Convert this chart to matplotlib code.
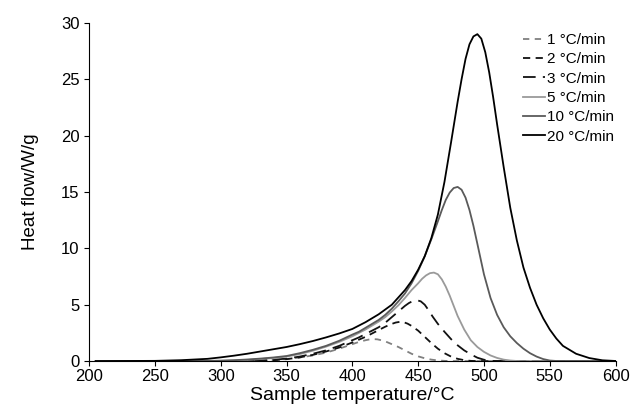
#!/usr/bin/env python3

"""
DSC heat flow curves at different heating rates.
"""

import matplotlib
matplotlib.use('Agg')
import matplotlib.pyplot as plt

plt.rcParams['font.family'] = ['Liberation Sans', 'DejaVu Sans']

rate_labels = ['1 °C/min', '2 °C/min', '3 °C/min', '5 °C/min', '10 °C/min', '20 °C/min']

# temperature (°C) / heat flow (W/g) pairs, one pair per heating rate
temps_1 = [205, 300, 320, 330, 340, 350, 360, 370, 380, 390,
           400, 405, 410, 413, 416, 419, 422, 425, 430, 435,
           440, 445, 450, 455, 460, 465, 470, 475, 600]
hf_1 = [0, 0, 0.02, 0.05, 0.1, 0.18, 0.32, 0.5, 0.75, 1.1,
        1.5, 1.7, 1.85, 1.92, 1.95, 1.93, 1.85, 1.75, 1.5, 1.25,
        0.95, 0.65, 0.42, 0.25, 0.13, 0.06, 0.02, 0, 0]

temps_2 = [205, 310, 320, 330, 340, 350, 360, 370, 380, 390,
           400, 405, 410, 415, 420, 425, 430, 433, 436, 439,
           442, 445, 450, 455, 460, 465, 470, 475, 480, 485,
           490, 495, 600]
hf_2 = [0, 0, 0.01, 0.03, 0.08, 0.17, 0.33, 0.55, 0.85, 1.2,
        1.65, 1.9, 2.15, 2.45, 2.75, 3.05, 3.3, 3.42, 3.48, 3.45,
        3.32, 3.12, 2.7, 2.15, 1.6, 1.1, 0.7, 0.4, 0.2, 0.08,
        0.02, 0, 0]

temps_3 = [205, 300, 310, 320, 330, 340, 350, 360, 370, 380,
           390, 400, 405, 410, 415, 420, 425, 430, 435, 440,
           443, 446, 449, 452, 455, 458, 461, 465, 470, 475,
           480, 485, 490, 495, 500, 505, 510, 600]
hf_3 = [0, 0, 0.01, 0.03, 0.06, 0.12, 0.22, 0.4, 0.65, 0.95,
        1.35, 1.85, 2.1, 2.4, 2.7, 3.0, 3.4, 3.9, 4.4, 4.9,
        5.15, 5.33, 5.4, 5.3, 5.0, 4.5, 3.95, 3.3, 2.6, 1.95,
        1.4, 0.95, 0.6, 0.3, 0.12, 0.03, 0, 0]

temps_5 = [205, 290, 300, 310, 320, 330, 340, 350, 360, 370,
           380, 390, 400, 405, 410, 415, 420, 425, 430, 435,
           440, 445, 450, 453, 456, 459, 462, 465, 468, 471,
           474, 477, 480, 485, 490, 495, 500, 505, 510, 515,
           520, 525, 530, 600]
hf_5 = [0, 0, 0.02, 0.05, 0.1, 0.18, 0.27, 0.4, 0.62, 0.92,
        1.28, 1.7, 2.2, 2.5, 2.8, 3.15, 3.5, 3.9, 4.4, 4.95,
        5.6, 6.3, 6.9, 7.3, 7.6, 7.8, 7.85, 7.7, 7.25, 6.6,
        5.8, 4.9, 4.0, 2.8, 1.85, 1.25, 0.82, 0.5, 0.28, 0.13,
        0.05, 0.01, 0, 0]

temps_10 = [205, 280, 290, 300, 310, 320, 330, 340, 350, 360,
            370, 380, 390, 400, 405, 410, 415, 420, 425, 430,
            435, 440, 445, 450, 455, 460, 465, 468, 471, 474,
            477, 480, 483, 486, 489, 492, 495, 500, 505, 510,
            515, 520, 525, 530, 535, 540, 545, 550, 555, 600]
hf_10 = [0, 0, 0.02, 0.04, 0.08, 0.14, 0.22, 0.32, 0.45, 0.7,
         1.0, 1.35, 1.8, 2.35, 2.6, 2.95, 3.3, 3.65, 4.1, 4.65,
         5.3, 6.0, 6.9, 8.0, 9.3, 10.8, 12.4, 13.4, 14.3, 14.95,
         15.35, 15.45, 15.2, 14.5, 13.4, 12.0, 10.4, 7.7, 5.6, 4.1,
         3.0, 2.2, 1.6, 1.1, 0.7, 0.4, 0.18, 0.05, 0.01, 0]

temps_20 = [205, 250, 270, 290, 300, 310, 320, 330, 340, 350,
            360, 370, 380, 390, 400, 410, 420, 430, 440, 445,
            450, 455, 460, 465, 470, 475, 480, 483, 486, 489,
            492, 495, 498, 501, 504, 507, 510, 515, 520, 525,
            530, 535, 540, 545, 550, 555, 560, 570, 580, 590,
            600]
hf_20 = [0, 0.02, 0.08, 0.2, 0.33, 0.48, 0.65, 0.85, 1.05, 1.25,
         1.5, 1.78, 2.1, 2.45, 2.85, 3.45, 4.15, 5.0, 6.3, 7.1,
         8.1, 9.3, 10.9, 13.0, 15.9, 19.4, 23.0, 25.0, 26.8, 28.1,
         28.8, 29.0, 28.6, 27.4, 25.6, 23.4, 21.0, 17.2, 13.6, 10.7,
         8.3, 6.5, 5.0, 3.8, 2.8, 2.0, 1.35, 0.65, 0.27, 0.07,
         0.01]


def main():
    fig = plt.figure(figsize=(6.32, 4.16), dpi=100)
    ax = fig.add_axes([0.141, 0.132, 0.833, 0.813])

    series = [(temps_1, hf_1), (temps_2, hf_2), (temps_3, hf_3),
              (temps_5, hf_5), (temps_10, hf_10), (temps_20, hf_20)]
    colors = ['#808080', '#111111', '#111111', '#9a9a9a', '#5a5a5a', '#000000']
    dashes = [(3.5, 3), (4, 3), (7, 4), None, None, None]

    for (tt, vals), lab, col, dsh in zip(series, rate_labels, colors, dashes):
        line, = ax.plot(tt, vals, color=col, lw=1.3, label=lab)
        if dsh is not None:
            line.set_dashes(dsh)

    ax.set_xlim(200, 600)
    ax.set_ylim(0, 30)
    ax.set_xticks(range(200, 601, 50))
    ax.set_yticks(range(0, 31, 5))
    ax.spines['top'].set_visible(False)
    ax.spines['right'].set_visible(False)
    ax.tick_params(direction='out', length=3.5, width=0.8, labelsize=12)
    ax.tick_params(axis='x', pad=2.5)
    ax.tick_params(axis='y', pad=3.5)
    ax.set_xlabel('Sample temperature/°C', fontsize=14, labelpad=2)
    ax.set_ylabel('Heat flow/W/g', fontsize=13.5, labelpad=16)

    ax.legend(loc='upper left', bbox_to_anchor=(523 / 632, 1 - 33 / 416),
              bbox_transform=fig.transFigure, frameon=False, fontsize=11,
              handlelength=1.45, handletextpad=0.1, labelspacing=0.35,
              borderpad=0, borderaxespad=0)

    fig.savefig('out.png', dpi=100)
    plt.close(fig)


if __name__ == '__main__':
    main()
